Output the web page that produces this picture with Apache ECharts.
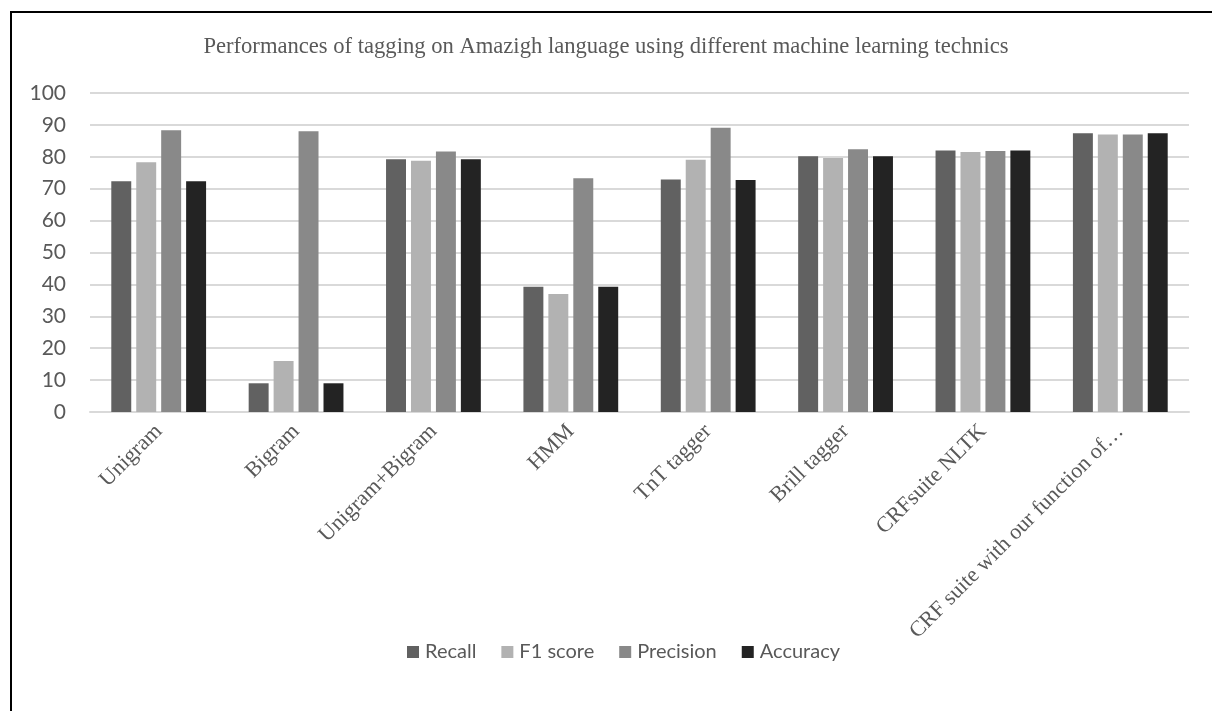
<!DOCTYPE html>
<html>
<head>
<meta charset="utf-8">
<script src="https://cdn.jsdelivr.net/npm/echarts@6/dist/echarts.min.js"></script>
<style>
  html, body { margin: 0; padding: 0; background: #ffffff; }
  #chart { width: 1212px; height: 711px; }
</style>
</head>
<body>
<div id="chart"></div>
<script>
// Tagger names shown along the category axis
const categories = [
  'Unigram', 'Bigram', 'Unigram+Bigram', 'HMM', 'TnT tagger',
  'Brill tagger', 'CRFsuite NLTK', 'CRF suite with our function of\u2026'
];

// Scores (%) per tagger
const recall    = [72.3,  9.0, 79.2, 39.3, 72.9, 80.2, 82.0, 87.4];
const f1Score   = [78.3, 16.0, 78.8, 37.0, 79.1, 79.6, 81.5, 87.0];
const precision = [88.3, 88.0, 81.7, 73.3, 89.1, 82.4, 81.8, 87.0];
const accuracy  = [72.3,  9.0, 79.2, 39.3, 72.7, 80.2, 82.0, 87.4];

const seriesNames = ['Recall', 'F1 score', 'Precision', 'Accuracy'];
const seriesColors = ['#616161', '#b2b2b2', '#898989', '#232323'];
const seriesData = [recall, f1Score, precision, accuracy];

const chart = echarts.init(document.getElementById('chart'), null, { renderer: 'canvas' });

const option = {
  backgroundColor: '#ffffff',
  animation: false,
  title: {
    text: 'Performances of tagging on Amazigh language using different machine learning technics',
    left: 'center',
    top: 31,
    textStyle: {
      fontFamily: '"Liberation Serif", "DejaVu Serif", serif',
      fontWeight: 'normal',
      fontSize: 22.6,
      color: '#595959'
    }
  },
  legend: {
    data: seriesNames,
    bottom: 44,
    left: 402,
    icon: 'rect',
    itemWidth: 12,
    itemHeight: 12,
    itemGap: 25,
    textStyle: {
      fontFamily: 'Lato, "Open Sans", sans-serif',
      fontSize: 20,
      color: '#595959',
      padding: [0, 0, 0, 1]
    }
  },
  grid: {
    left: 90,
    right: 23,
    top: 93,
    bottom: 299,
    containLabel: false
  },
  xAxis: {
    type: 'category',
    data: categories,
    axisLine: { show: true, lineStyle: { color: '#d9d9d9', width: 2 } },
    axisTick: { show: false },
    axisLabel: {
      rotate: 45,
      margin: 16,
      interval: 0,
      fontFamily: '"Liberation Serif", "DejaVu Serif", serif',
      fontSize: 22,
      color: '#595959'
    }
  },
  yAxis: {
    type: 'value',
    min: 0,
    max: 100,
    interval: 10,
    axisLine: { show: false },
    axisTick: { show: false },
    splitLine: { lineStyle: { color: '#d9d9d9', width: 2 } },
    axisLabel: {
      margin: 24,
      fontFamily: 'Lato, "Open Sans", sans-serif',
      fontSize: 21,
      color: '#595959'
    }
  },
  series: seriesNames.map((name, i) => ({
    name: name,
    type: 'bar',
    data: seriesData[i],
    barGap: '25%',
    barCategoryGap: '31%',
    itemStyle: { color: seriesColors[i] }
  })),
  graphic: [{
    type: 'rect',
    shape: { x: 11, y: 12, width: 1260, height: 760 },
    style: { fill: 'none', stroke: '#000000', lineWidth: 2 },
    silent: true,
    z: 100
  }]
};

chart.setOption(option);
</script>
</body>
</html>
